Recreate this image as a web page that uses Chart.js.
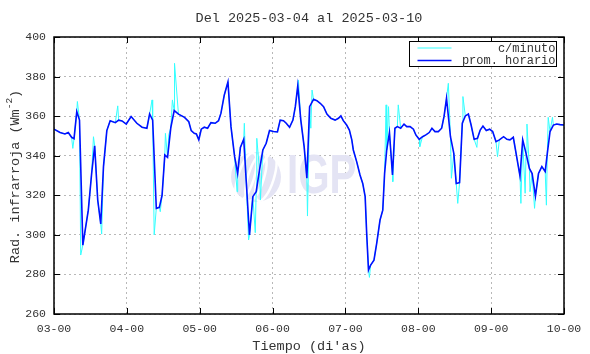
<!DOCTYPE html>
<html>
<head>
<meta charset="utf-8">
<script src="https://cdn.jsdelivr.net/npm/chart.js@4/dist/chart.umd.min.js"></script>
<style>
  html, body { margin: 0; padding: 0; background: #fff; }
  canvas { display: block; }
</style>
</head>
<body>
<canvas id="chart" width="590" height="354"></canvas>
<script>
// hours since 03-00
const xLabels = ['03-00', '04-00', '05-00', '06-00', '07-00', '08-00', '09-00', '10-00'];

const hourlyHours = [
  0, 2, 3.6, 4.7, 5.8, 6.6, 7.5, 8.4, 9.5, 11.3, 12.4, 13.4, 14.4, 15.4, 16.3, 17.4, 18.5, 20.2, 21.3, 22.4, 23.8,
  25.4, 27.3, 29, 30.6, 31.5, 32.5, 33.7, 34.7, 35.6, 36.5, 37.4, 38.5, 39.6, 41, 43, 44.4, 45.2, 46.2, 46.9, 47.7,
  48.5, 49.5, 50.6, 51.7, 53.1, 54.2, 55, 56.1, 57.3, 58.3, 59.5, 60.5, 61.4, 62.5, 63.3, 64.4, 65.5, 66.6, 67.7,
  68.8, 69.9, 71, 72.3, 73.6, 74.5, 75.6, 76.5, 77.6, 78.7, 79.5, 80.3, 81.3, 82.4, 83.3, 84.2, 85.5, 86.6, 87.7,
  88.8, 89.9, 91.2, 92.6, 93.7, 94.5, 95.3, 96.4, 97.3, 98.1, 98.6, 99.7, 100.8, 101.7, 102.5, 103, 103.6, 104.3,
  105.4, 106.3, 107.4, 108.3, 108.9, 109.6, 110.5, 111.5, 112.3, 113.1, 114.2, 115.3, 116.2, 117.3, 118.4, 119.2,
  120.3, 121.4, 122.5, 123.6, 124.5, 125.5, 126.6, 127.7, 128.5, 129.3, 130.6, 131.7, 132.5, 133.6, 134.5, 135.5,
  136.5, 137.4, 138.4, 139.5, 140.4, 141.3, 142.4, 143.5, 144.5, 145.6, 146.7, 148.1, 149.2, 150.2, 151.3, 152.4,
  153.5, 154.4, 155.5, 156.6, 157.5, 158.6, 159.6, 160.7, 161.8, 162.5, 163.4, 164.5, 165.6, 166.7, 168
];
const hourlyValues = [
  353.4, 351.7, 351, 351.7, 349.3, 348.6, 362.3, 358, 294.8, 312.5, 331, 345, 317.6, 305.5, 334.5, 352.7, 357.7, 356.7, 358, 357.6, 356,
  359.8, 356.4, 354.4, 353.9, 361.1, 358, 313.4, 313.9, 320, 340.4, 339.2, 354.4, 362.8, 361, 359.4, 357.2, 352.7, 351.3, 351, 348,
  353.4, 354.4, 353.9, 356.7, 356.4, 357.7, 361.5, 370.7, 377.3, 354.7, 339.5, 331, 344.2, 348.3, 327.7, 299.9, 319.3, 321.8, 332.8,
  342.9, 346.3, 352.7, 352.2, 352, 358, 357.7, 356.4, 354.4, 358, 364.8, 375.3, 358, 344.6, 328.6, 364.8, 368.5, 367.8, 366.5,
  364.8, 361.1, 358.9, 358, 358.9, 360.1, 357.7, 355.5, 353, 348, 342.9, 337, 330.3, 326, 319.3, 300.7, 282.2, 284.7,
  287.2, 295.7, 307.5, 312.5, 331, 342.9, 351.7, 330.3, 353.9, 354.7, 353.9, 356, 354.7, 354.7, 353.4, 350.5,
  348.3, 349.6, 350.5, 351.7, 353.9, 352.2, 352.2, 353.9, 360, 369, 349.6, 341.2, 326, 326.4, 356.4, 360.1,
  361.1, 355.5, 348.3, 348.8, 353, 355, 352.7, 353.4, 352.2, 347.1, 348, 349.6, 348.3, 348, 349.3, 339.5,
  329.7, 348, 341.2, 333.6, 331, 319.6, 331, 334.5, 332, 341.2, 352.2, 355.5, 356, 355.7, 355.5
];

// extra per-minute excursions seen around the hourly mean
const minuteSpikeHours = [
  6.2, 7.7, 8.8, 13, 15.7, 21, 32.3, 33, 35, 36.7, 37.8, 39, 39.7, 60.3, 62.7, 64.1, 66.3, 66.8, 68, 80.5, 83.5,
  84.6, 85, 103.9, 109.4, 110.2, 111.6, 113.4, 120.5, 129.9, 130.9, 133, 134.7, 139.3, 146.1, 153.8, 155.2, 155.8,
  156.8, 158.3, 162.2, 162.8, 164.2
];
const minuteSpikeValues = [
  343.7, 367.4, 289.8, 349.6, 300.4, 365.2, 368.2, 300, 311.7, 351.3, 350.5, 368.2, 386.7, 321.8, 356.4, 297.4, 301.1, 348.8, 317.6, 378.3, 309.5,
  353.9, 373.2, 278.5, 365.7, 364.8, 326.9, 365.7, 344.6, 376.6, 328.6, 315.9, 369.9, 344.2, 339.5, 315.9, 321, 356,
  321.8, 313.4, 315, 359.4, 359.4
];

const FONT = "'Liberation Mono', 'DejaVu Sans Mono', monospace";
const TEXT_COLOR = '#333333';

function toPoints(xs, ys) {
  return xs.map((x, i) => ({ x, y: ys[i] }));
}

function minuteSeries() {
  const pts = toPoints(hourlyHours, hourlyValues).concat(toPoints(minuteSpikeHours, minuteSpikeValues));
  return pts.sort((a, b) => a.x - b.x);
}

function drawWatermark(ctx, area) {
  const cx = area.left + 202, cy = area.top + 140, r = 25;
  ctx.save();
  ctx.fillStyle = '#e4e4f4';
  ctx.beginPath();
  ctx.arc(cx, cy, r, 0, Math.PI * 2);
  ctx.fill();
  ctx.strokeStyle = '#ffffff';
  ctx.lineWidth = 2.5;
  for (let k = -1; k <= 1; k++) {
    ctx.beginPath();
    ctx.ellipse(cx + k * 10, cy, 8, r, 0.3, 0, Math.PI * 2);
    ctx.stroke();
  }
  ctx.fillStyle = '#e4e4f4';
  ctx.font = "bold 56px 'Liberation Sans', Arial, sans-serif";
  ctx.textBaseline = 'alphabetic';
  ctx.translate(area.left + 233, area.top + 156);
  ctx.scale(0.72, 1);
  ctx.fillText('IGP', 0, 0);
  ctx.restore();
}

function drawFrame(chart) {
  const { ctx, chartArea: a, scales } = chart;
  ctx.save();
  ctx.strokeStyle = '#000';
  ctx.lineWidth = 1;
  scales.x.ticks.forEach(t => {
    const px = Math.round(scales.x.getPixelForValue(t.value)) + 0.5;
    ctx.beginPath();
    ctx.moveTo(px, a.bottom); ctx.lineTo(px, a.bottom - 6);
    ctx.moveTo(px, a.top); ctx.lineTo(px, a.top + 6);
    ctx.stroke();
  });
  scales.y.ticks.forEach(t => {
    const py = Math.round(scales.y.getPixelForValue(t.value)) + 0.5;
    ctx.beginPath();
    ctx.moveTo(a.left, py); ctx.lineTo(a.left + 6, py);
    ctx.moveTo(a.right, py); ctx.lineTo(a.right - 6, py);
    ctx.stroke();
  });
  ctx.lineWidth = 1.5;
  ctx.strokeRect(a.left, a.top, a.right - a.left, a.bottom - a.top);
  ctx.restore();
}

function drawTitles(chart) {
  const { ctx, chartArea: a } = chart;
  const mid = (a.left + a.right) / 2;
  ctx.save();
  ctx.fillStyle = TEXT_COLOR;
  ctx.font = '13.5px ' + FONT;
  ctx.textAlign = 'center';
  ctx.textBaseline = 'middle';
  ctx.fillText('Del 2025-03-04 al 2025-03-10', mid, 18);
  ctx.fillText("Tiempo (di'as)", mid, 346);

  // y title with superscript
  const main = 'Rad. infrarroja (Wm';
  const sup = '-2';
  const close = ')';
  ctx.translate(15, (a.top + a.bottom) / 2 + 1);
  ctx.rotate(-Math.PI / 2);
  ctx.textAlign = 'left';
  const wMain = ctx.measureText(main).width;
  const wClose = ctx.measureText(close).width;
  ctx.font = '9.5px ' + FONT;
  const wSup = ctx.measureText(sup).width;
  const x0 = -(wMain + wSup + wClose) / 2;
  ctx.font = '13.5px ' + FONT;
  ctx.fillText(main, x0, 0);
  ctx.fillText(close, x0 + wMain + wSup, 0);
  ctx.font = '9.5px ' + FONT;
  ctx.fillText(sup, x0 + wMain, -6);
  ctx.restore();
}

function drawLegend(chart) {
  const { ctx } = chart;
  const box = { x: 409.5, y: 41.5, w: 147, h: 25 };
  const rows = [chart.data.datasets[0], chart.data.datasets[1]];
  ctx.save();
  ctx.fillStyle = '#fff';
  ctx.fillRect(box.x, box.y, box.w, box.h);
  ctx.strokeStyle = '#000';
  ctx.lineWidth = 1;
  ctx.strokeRect(box.x, box.y, box.w, box.h);
  ctx.font = '12px ' + FONT;
  ctx.textAlign = 'right';
  ctx.textBaseline = 'middle';
  rows.forEach((ds, i) => {
    const y = box.y + 6.5 + i * 12.5;
    ctx.strokeStyle = ds.borderColor;
    ctx.lineWidth = ds.borderWidth;
    ctx.beginPath();
    ctx.moveTo(box.x + 8, y); ctx.lineTo(box.x + 42, y);
    ctx.stroke();
    ctx.fillStyle = TEXT_COLOR;
    ctx.fillText(ds.label, box.x + box.w - 1, y + 0.5);
  });
  ctx.restore();
}

const decor = {
  id: 'decor',
  beforeDatasetsDraw(chart) {
    drawWatermark(chart.ctx, chart.chartArea);
  },
  afterDraw(chart) {
    drawFrame(chart);
    drawTitles(chart);
    drawLegend(chart);
  }
};

new Chart(document.getElementById('chart'), {
  type: 'line',
  data: {
    datasets: [
      {
        label: 'c/minuto',
        data: minuteSeries(),
        borderColor: '#33ffff',
        borderWidth: 1,
        pointRadius: 0,
        tension: 0,
        order: 2
      },
      {
        label: 'prom. horario',
        data: toPoints(hourlyHours, hourlyValues),
        borderColor: '#0010ff',
        borderWidth: 1.6,
        pointRadius: 0,
        tension: 0,
        order: 1
      }
    ]
  },
  options: {
    responsive: false,
    animation: false,
    layout: { padding: { top: 37, right: 26, left: 0, bottom: 0 } },
    plugins: {
      legend: { display: false },
      title: { display: false },
      tooltip: { enabled: false }
    },
    scales: {
      x: {
        type: 'linear',
        min: 0,
        max: 168,
        afterFit(scale) { scale.height = 40; },
        afterBuildTicks(scale) {
          scale.ticks = xLabels.map((_, i) => ({ value: i * 24 }));
        },
        ticks: {
          callback: (v, i) => xLabels[i],
          padding: 8,
          maxRotation: 0,
          color: TEXT_COLOR,
          font: { family: FONT, size: 11.5 }
        },
        grid: { color: '#b8b8b8', lineWidth: 1, drawTicks: false },
        border: { display: false, dash: [2, 3] }
      },
      y: {
        min: 260,
        max: 400,
        afterFit(scale) { scale.width = 54; },
        ticks: {
          stepSize: 20,
          padding: 8,
          color: TEXT_COLOR,
          font: { family: FONT, size: 11.5 }
        },
        grid: { color: '#b8b8b8', lineWidth: 1, drawTicks: false },
        border: { display: false, dash: [2, 3] }
      }
    }
  },
  plugins: [decor]
});
</script>
</body>
</html>
